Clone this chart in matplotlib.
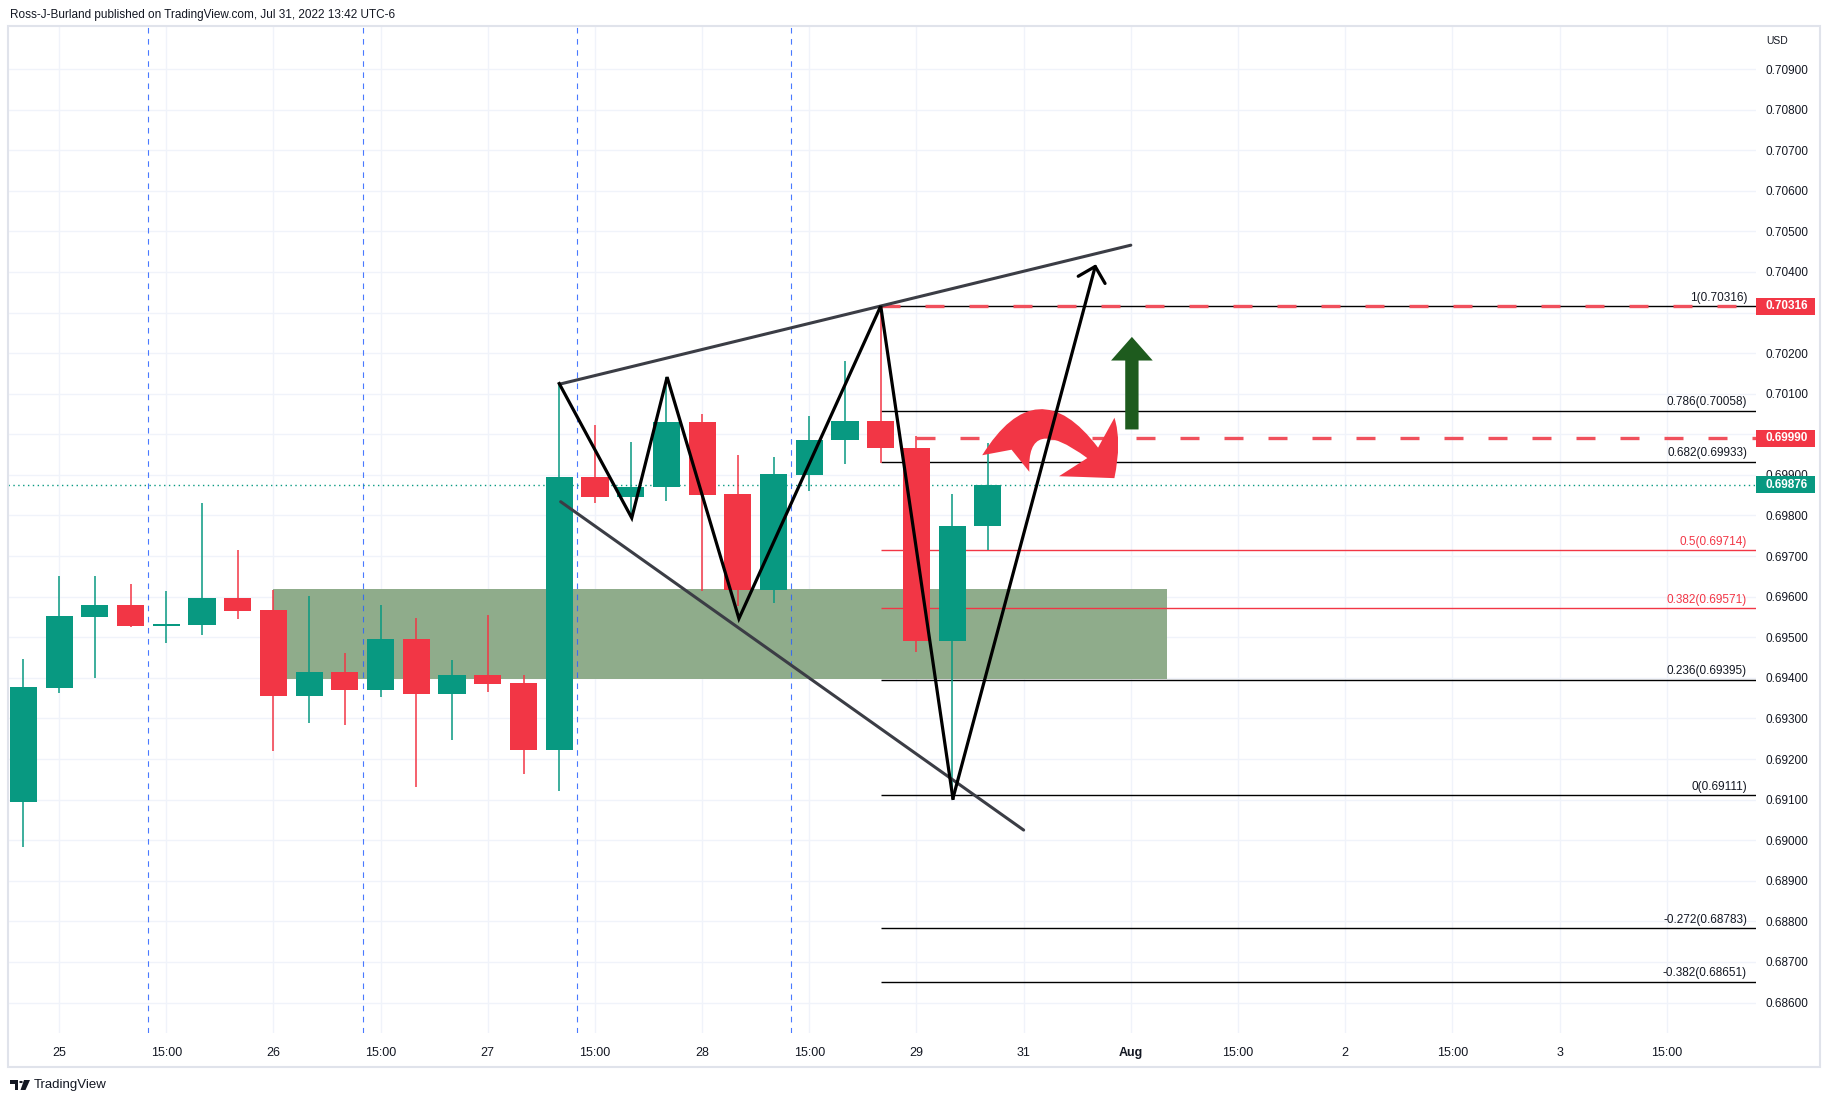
import numpy as np
import matplotlib.pyplot as plt
import matplotlib.transforms as mtransforms
from matplotlib.patches import FancyArrowPatch, Rectangle, Polygon, Circle
from matplotlib.path import Path

plt.rcParams['font.family'] = ['Liberation Sans', 'DejaVu Sans']

# 4h candles, 25 Jul - 29 Jul 2022 (bar index 0..27)
opens = [0.69093, 0.69375, 0.69550, 0.69579, 0.69528, 0.69530, 0.69596, 0.69566,
         0.69356, 0.69414, 0.69370, 0.69495, 0.69361, 0.69407, 0.69387, 0.69223,
         0.69896, 0.69845, 0.69870, 0.70031, 0.69852, 0.69616, 0.69901, 0.69985,
         0.70034, 0.69967, 0.69491, 0.69774]
highs = [0.69446, 0.69650, 0.69650, 0.69630, 0.69613, 0.69832, 0.69714, 0.69617,
         0.69601, 0.69461, 0.69579, 0.69547, 0.69443, 0.69554, 0.69407, 0.70125,
         0.70024, 0.69980, 0.70140, 0.70051, 0.69950, 0.69943, 0.70046, 0.70181,
         0.70316, 0.69995, 0.69854, 0.69979]
lows = [0.68984, 0.69363, 0.69400, 0.69525, 0.69486, 0.69506, 0.69545, 0.69220,
        0.69289, 0.69284, 0.69352, 0.69130, 0.69248, 0.69365, 0.69163, 0.69122,
        0.69830, 0.69798, 0.69835, 0.69614, 0.69578, 0.69584, 0.69860, 0.69928,
        0.69930, 0.69464, 0.69111, 0.69716]
closes = [0.69377, 0.69552, 0.69579, 0.69528, 0.69533, 0.69596, 0.69564, 0.69356,
          0.69414, 0.69370, 0.69495, 0.69361, 0.69407, 0.69385, 0.69223, 0.69896,
          0.69845, 0.69871, 0.70031, 0.69850, 0.69616, 0.69903, 0.69987, 0.70034,
          0.69966, 0.69491, 0.69775, 0.69876]

xtick_pos = [1, 4, 7, 10, 13, 16, 19, 22, 25, 28, 31, 34, 37, 40, 43, 46]
xtick_labels = ['25', '15:00', '26', '15:00', '27', '15:00', '28', '15:00', '29',
                '31', 'Aug', '15:00', '2', '15:00', '3', '15:00']
session_breaks = [3.5, 9.5, 15.5, 21.5]
price_ticks = np.round(np.arange(0.686, 0.7095, 0.001), 3)
hidden_ticks = [0.703, 0.700]  # covered by the price boxes

fib_levels = ['1', '0.786', '0.682', '0.5', '0.382', '0.236', '0', '-0.272', '-0.382']
fib_prices = [0.70316, 0.70058, 0.69933, 0.69714, 0.69571, 0.69395, 0.69111, 0.68783, 0.68651]
fib_red = ['0.5', '0.382']
fib_start = 24

zone_x = [7, 32]
zone_y = [0.69398, 0.69618]

upper_x = [15.03, 31.0]
upper_y = [0.70124, 0.70466]
lower_x = [15.04, 28.0]
lower_y = [0.69834, 0.69025]
zigzag_x = [15.0, 17.03, 18.02, 20.03, 24.0, 26.02, 30.02]
zigzag_y = [0.70125, 0.69794, 0.70141, 0.69546, 0.70316, 0.69103, 0.70419]

red_levels = [0.70316, 0.69990]
red_level_start = [24, 25]
last_price = 0.69876

curve_arrow_x = [27.5, 28.35, 30.54]
curve_arrow_y = [0.69928, 0.70140, 0.69892]
up_arrow_x = 31.03
up_arrow_y = [0.70012, 0.70240]

GREEN = '#089981'
RED = '#f23645'
TXT = '#131722'

W, H = 1830, 1103
fig = plt.figure(figsize=(W / 100, H / 100), dpi=100)
ax = fig.add_axes([8 / W, 1 - 1033 / H, 1748 / W, 1007 / H])
xmin, xmax = -0.43, 48.5
ax.set_xlim(xmin, xmax)
ax.set_ylim(0.68525, 0.71006)

for s in ax.spines.values():
    s.set_visible(False)
ax.grid(True, color='#f0f3fa', lw=1, zorder=0)
ax.set_axisbelow(True)

ax.set_xticks(xtick_pos)
ax.set_xticklabels(xtick_labels)
for lab in ax.get_xticklabels():
    if lab.get_text() == 'Aug':
        lab.set_fontweight('bold')
ax.yaxis.tick_right()
ax.set_yticks(price_ticks)
ax.set_yticklabels(['' if p in hidden_ticks else '%.5f' % p for p in price_ticks])
ax.tick_params(axis='x', length=0, pad=10, labelsize=9, labelcolor=TXT)
ax.tick_params(axis='y', length=0, pad=7, labelsize=8.5, labelcolor=TXT)

# zone
ax.add_patch(Rectangle((zone_x[0], zone_y[0]), zone_x[1] - zone_x[0], zone_y[1] - zone_y[0],
                       facecolor='#8fac8b', edgecolor='none', zorder=1))

# session separators
for b in session_breaks:
    ax.axvline(b, color='#2962ff', lw=0.8, alpha=0.85, ls=(0, (5, 5)), zorder=1.5)

# fib retracement
for lvl, p in zip(fib_levels, fib_prices):
    c = RED if lvl in fib_red else 'black'
    ax.hlines(p, fib_start, xmax, color=c, lw=1, zorder=2)
    trans = mtransforms.blended_transform_factory(ax.transAxes, ax.transData) + \
        mtransforms.ScaledTranslation(0, 4 / 72, fig.dpi_scale_trans)
    ax.text(0.9949, p, '%s(%.5f)' % (lvl, p), transform=trans, ha='right', va='baseline',
            fontsize=8.5, color=RED if lvl in fib_red else TXT, zorder=5)

# red dashed levels
for p, x0 in zip(red_levels, red_level_start):
    ax.hlines(p, x0, xmax, color='#f0505c', lw=2.4, linestyles=[(0, (5.7, 7.5))], zorder=2.5)

# last price dotted line
ax.axhline(last_price, color=GREEN, lw=1, ls=(0, (1, 2.5)), zorder=2)

# candles
for i in range(len(opens)):
    o, h, l, c = opens[i], highs[i], lows[i], closes[i]
    col = GREEN if c >= o else RED
    ax.vlines(i, l, h, color=col, lw=1.1, zorder=3)
    ax.bar(i, max(abs(c - o), 0.00005), bottom=min(o, c), width=0.76, color=col, zorder=3.1)

# trend lines
ax.plot(upper_x, upper_y, color='#3b3d45', lw=2.2, solid_capstyle='round', zorder=4)
ax.plot(lower_x, lower_y, color='#3b3d45', lw=2.2, solid_capstyle='round', zorder=4)

# curved red arrow
curve = Path(list(zip(curve_arrow_x, curve_arrow_y)), [Path.MOVETO, Path.CURVE3, Path.CURVE3])
ax.add_patch(FancyArrowPatch(path=curve, arrowstyle='fancy,head_length=30,head_width=58,tail_width=36',
                             mutation_scale=1, color=RED, lw=0, zorder=4.5))

# zigzag
ax.plot(zigzag_x[:-1], zigzag_y[:-1], color='black', lw=2.3, solid_joinstyle='miter', zorder=5)
ax.add_patch(FancyArrowPatch((zigzag_x[-2], zigzag_y[-2]), (zigzag_x[-1], zigzag_y[-1]),
                             arrowstyle='->,head_length=10,head_width=10', mutation_scale=1,
                             color='black', lw=2.3, shrinkA=0, shrinkB=0, zorder=5))

# green up arrow
ax.add_patch(FancyArrowPatch((up_arrow_x, up_arrow_y[0]), (up_arrow_x, up_arrow_y[1]),
                             arrowstyle='simple,head_length=17,head_width=30,tail_width=9.6',
                             mutation_scale=1, color='#1e5b1e', lw=0, shrinkA=0, shrinkB=0, zorder=6))

# price boxes on the axis
btrans = mtransforms.blended_transform_factory(ax.transAxes, ax.transData)
for p, col in [(red_levels[0], RED), (red_levels[1], RED), (last_price, GREEN)]:
    ax.add_patch(Rectangle((1.0, p - 0.00021), 0.0337, 0.00042, transform=btrans,
                           facecolor=col, edgecolor='none', clip_on=False, zorder=10))
    ax.text(1.0177, p, '%.5f' % p, transform=btrans, ha='center', va='center',
            color='white', fontsize=8.5, fontweight='bold', zorder=11, clip_on=False)

ax.text(1766 / W, 1 - 41 / H, 'USD', transform=fig.transFigure, fontsize=7.5, color=TXT,
        va='center', ha='left')

# frame and header/footer
fig.patches.append(Rectangle((8 / W, 1 - 1067 / H), 1812 / W, 1041 / H, transform=fig.transFigure,
                             fill=False, edgecolor='#e0e3eb', lw=1.5))
fig.text(10 / W, 1 - 15 / H, 'Ross-J-Burland published on TradingView.com, Jul 31, 2022 13:42 UTC-6',
         fontsize=8.5, color=TXT, va='center')
fig.text(34 / W, 1 - 1085 / H, 'TradingView', fontsize=9.5, color=TXT, va='center')


def fp(x, y):
    return (x / W, 1 - y / H)


logo = [
    Polygon([fp(10, 1080), fp(18, 1080), fp(18, 1090), fp(14.5, 1090), fp(14.5, 1083.5), fp(10, 1083.5)]),
    Circle(fp(21, 1082), 1.8 / W),
    Polygon([fp(24, 1080), fp(30, 1080), fp(25.5, 1090), fp(20.5, 1090)]),
]
for pch in logo:
    pch.set_transform(fig.transFigure)
    pch.set_facecolor(TXT)
    pch.set_edgecolor('none')
    fig.patches.append(pch)

fig.savefig('out.png', dpi=100, facecolor='white')
